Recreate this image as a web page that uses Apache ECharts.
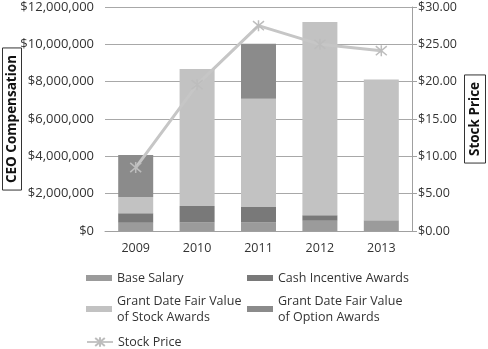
<!DOCTYPE html>
<html><head><meta charset="utf-8">
<script src="https://cdn.jsdelivr.net/npm/echarts@6/dist/echarts.min.js"></script>
<style>html,body{margin:0;padding:0;background:#fff}#c{width:488px;height:349px}</style>
</head><body><div id="c"></div>
<script>
const years = ['2009','2010','2011','2012','2013'];
const baseSalary = [445000, 450000, 450000, 550000, 570000];
const cashIncentive = [500000, 890000, 840000, 290000, 0];
const stockAwards = [870000, 7340000, 5800000, 10360000, 7550000];
const optionAwards = [2250000, 0, 2940000, 0, 0];
const stockPrice = [8.5, 19.6, 27.5, 25.0, 24.15];
const leftTicks = [0, 2000000, 4000000, 6000000, 8000000, 10000000, 12000000];
const rightTicks = [0, 5, 10, 15, 20, 25, 30];

const FONT = 'Open Sans';
const colors = {base:'#9b9b9b', cash:'#797979', stock:'#c2c2c2', option:'#8b8b8b', line:'#c6c6c6'};
const starPath = 'path://M0,0L10,10M10,0L0,10M5,-1L5,11';

const chart = echarts.init(document.getElementById('c'));
function fmtMoney(v){return '$' + v.toLocaleString('en-US');}
const legendText = {fontFamily: FONT, fontSize: 12.5, color: '#333', lineHeight: 16};
function leg(name, left, top, icon){
  return {data:[{name:name, icon: icon||'rect'}], left:left, top:top, itemWidth:26, itemHeight:6, itemGap:0,
    textStyle: legendText, padding:0, selectedMode:false};
}
const titleStyle = {fontFamily:FONT, fontWeight:'bold', fontSize:13.5, color:'#111',
       borderColor:'#333', borderWidth:1, padding:[3,7,2,7], verticalAlign:'middle', align:'center'};
chart.setOption({
  animation:false,
  textStyle:{fontFamily:FONT},
  grid:{left:105, right:76, top:7, bottom:118, outerBoundsMode:'none', containLabel:false},
  legend:[
    leg('Base Salary', 86, 270),
    leg('Cash Incentive Awards', 247, 270),
    leg('Grant Date Fair Value\nof Stock Awards', 86, 293),
    leg('Grant Date Fair Value\nof Option Awards', 247, 293),
    {data:[{name:'Stock Price'}], left:86, top:334, itemWidth:26, itemHeight:12, padding:0,
     textStyle: legendText, selectedMode:false}
  ],
  xAxis:{type:'category', data:years,
    axisLine:{lineStyle:{color:'#a0a0a0', width:1}}, axisTick:{show:false},
    axisLabel:{color:'#333', fontSize:12.5, fontFamily:FONT, margin:11}},
  yAxis:[
    {type:'value', min:0, max:12000000, interval:2000000, position:'left',
     name:'CEO Compensation', nameLocation:'middle', nameGap:93, nameRotate:90, nameMoveOverlap:false,
     nameTextStyle:titleStyle,
     axisLine:{show:false}, axisTick:{show:false},
     splitLine:{lineStyle:{color:'#a8a8a8', width:1}},
     axisLabel:{formatter:fmtMoney, color:'#333', fontSize:13, fontFamily:FONT, margin:11}},
    {type:'value', min:0, max:30, interval:5, position:'right',
     name:'Stock Price', nameLocation:'middle', nameGap:63, nameRotate:90, nameMoveOverlap:false,
     nameTextStyle:Object.assign({}, titleStyle, {padding:[4,7,3,7]}),
     axisLine:{show:true, lineStyle:{color:'#a0a0a0'}},
     axisTick:{show:true, length:5, lineStyle:{color:'#a0a0a0'}},
     splitLine:{show:false},
     axisLabel:{formatter:v=>'$'+v.toFixed(2), color:'#333', fontSize:12.5, fontFamily:FONT, margin:6}}
  ],
  series:[
    {name:'Base Salary', type:'bar', stack:'a', data:baseSalary, barWidth:'57%', itemStyle:{color:colors.base}},
    {name:'Cash Incentive Awards', type:'bar', stack:'a', data:cashIncentive, itemStyle:{color:colors.cash}},
    {name:'Grant Date Fair Value\nof Stock Awards', type:'bar', stack:'a', data:stockAwards, itemStyle:{color:colors.stock}},
    {name:'Grant Date Fair Value\nof Option Awards', type:'bar', stack:'a', data:optionAwards, itemStyle:{color:colors.option}},
    {name:'Stock Price', type:'line', yAxisIndex:1, data:stockPrice, symbol:starPath, symbolSize:11,
     lineStyle:{color:colors.line, width:3},
     itemStyle:{color:'none', borderColor:'#bdbdbd', borderWidth:1.5}, z:5}
  ]
});
</script></body></html>
